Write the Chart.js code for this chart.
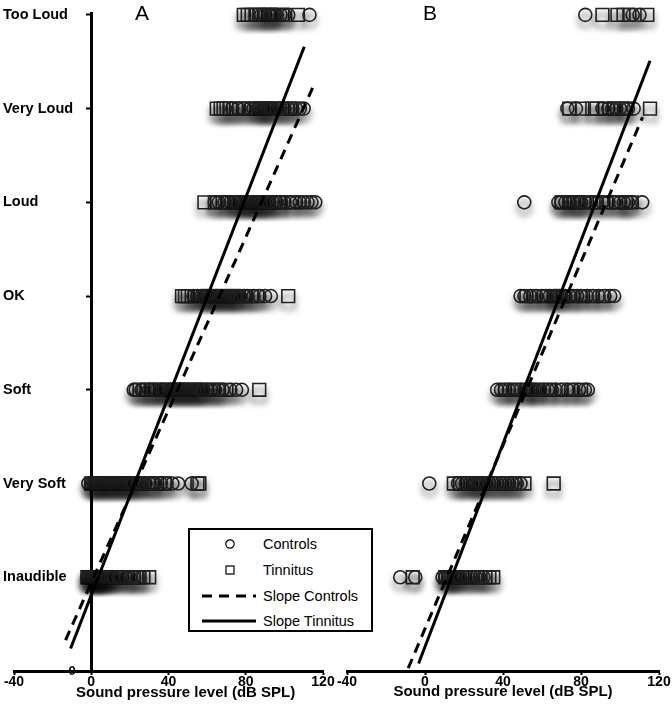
<!DOCTYPE html>
<html>
<head>
<meta charset="utf-8">
<script src="https://cdn.jsdelivr.net/npm/chart.js@4.4.1/dist/chart.umd.min.js"></script>
<style>
  body { margin: 0; background: #fff; }
  #page { position: relative; width: 672px; height: 719px; overflow: hidden; font-family: "Liberation Sans", Arial, sans-serif; }
  canvas { position: absolute; top: 0; }
  #chartA { left: 0; }
  #chartB { left: 335px; }
  .panel { position: absolute; top: 2px; font-size: 21px; line-height: 21px; color: #000; }
  #titleA { position: absolute; left: 76px; top: 684px; font-size: 15px; line-height: 15px; font-weight: bold; color: #000; white-space: nowrap; }
  #legend { position: absolute; left: 188px; top: 528px; width: 181px; height: 100px; border: 2px solid #000; background: #fff; }
  #legend .row { position: absolute; left: 0; height: 20px; width: 181px; }
  #legend svg { position: absolute; left: 11px; top: 0; }
  #legend span { position: absolute; left: 73px; top: 1px; font-size: 14.5px; line-height: 18px; color: #000; }
</style>
</head>
<body>
<div id="page">
  <canvas id="chartA" width="400" height="719"></canvas>
  <canvas id="chartB" width="337" height="719"></canvas>
  <div class="panel" style="left:135px">A</div>
  <div class="panel" style="left:423px">B</div>
  <div id="titleA">Sound pressure level (dB SPL)</div>
  <div id="legend">
    <div class="row" style="top:4px">
      <svg width="56" height="20"><circle cx="29" cy="10" r="4.2" fill="none" stroke="#000" stroke-width="1.2"/></svg>
      <span>Controls</span>
    </div>
    <div class="row" style="top:29.5px">
      <svg width="56" height="20"><rect x="25" y="6" width="8" height="8" fill="none" stroke="#000" stroke-width="1.2"/></svg>
      <span>Tinnitus</span>
    </div>
    <div class="row" style="top:55.5px">
      <svg width="56" height="20"><line x1="1" y1="10" x2="55" y2="10" stroke="#000" stroke-width="3" stroke-dasharray="10,7"/></svg>
      <span>Slope Controls</span>
    </div>
    <div class="row" style="top:80.5px">
      <svg width="56" height="20"><line x1="1" y1="10" x2="55" y2="10" stroke="#000" stroke-width="3"/></svg>
      <span>Slope Tinnitus</span>
    </div>
  </div>
</div>
<script>
// rating categories, index 0 -> level 1
const levels = ["Inaudible", "Very Soft", "Soft", "OK", "Loud", "Very Loud", "Too Loud"];

// Panel A: dB SPL per rating, one list per category
const controlsA = [
  [-2, -1, 0, 1, 1.5, 2, 3, 3.5, 4, 5, 5.5, 6, 7, 8, 9, 10, 11, 12, 14, 15, 18, 20, 22],
  [-1.5, 0, 1, 2, 3, 4, 5, 6, 7, 8, 9, 10, 11, 12, 13, 14, 15, 16, 17, 18, 19, 20, 21, 22, 24, 25, 26, 28, 30, 32, 33, 36, 39, 42, 45, 52],
  [22, 23, 26, 30, 32, 34, 36, 37, 38, 40, 41, 42, 43, 44, 45, 46, 47, 48, 49, 50, 51, 52, 53, 54, 55, 56, 57, 58, 60, 62, 64, 66, 68, 72, 75, 78],
  [53, 55, 57, 58, 59, 60, 61, 62, 63, 64, 65, 66, 67, 68, 69, 70, 71, 72, 73, 74, 75, 76, 77, 79, 81, 84, 87, 90, 93],
  [64, 66, 69, 72, 74, 75, 76, 78, 79, 80, 81, 82, 83, 84, 85, 86, 87, 88, 89, 90, 91, 92, 94, 96, 98, 100, 103, 106, 108, 110, 112, 114, 116],
  [73, 76, 79, 82, 84, 86, 87, 88, 89, 90, 91, 92, 93, 94, 96, 98, 100, 102, 104, 106, 108, 110],
  [88, 90, 92, 93, 94, 95, 96, 98, 100, 102, 113]
];
const tinnitusA = [
  [-2, -1, 0, 1, 2, 3, 4, 5, 6, 7, 8, 10, 13, 16, 19, 22, 24, 25, 27, 30],
  [0, 2, 4, 6, 9, 11, 14, 17, 20, 23, 26, 30, 34, 38, 55, 56],
  [25, 27, 29, 31, 33, 36, 39, 42, 45, 48, 51, 54, 57, 60, 63, 66, 70, 87],
  [47, 48.5, 50, 52, 56, 60, 64, 68, 72, 76, 80, 83, 86, 102],
  [58.6, 64, 68, 71, 74, 77, 80, 83, 86, 89, 92, 95, 98, 104],
  [65, 67, 68.5, 70, 72, 75, 79, 83, 87, 91, 95, 99, 103],
  [79, 81, 83, 85, 87, 89.5, 92, 99, 107]
];

// Panel B
const controlsB = [
  [-12.7, -5, 9, 10.5, 12, 13, 14, 15, 16, 17, 18, 20, 22, 24, 26, 28, 30],
  [2.2, 17, 19, 21, 23, 25, 26, 27, 28, 29, 31, 33, 35, 37, 39, 41, 43, 45, 47, 49],
  [37, 39, 41, 43, 45, 47, 49, 51, 53, 54, 55, 56, 57, 59, 61, 63, 65, 67, 70, 73, 76, 79, 82, 83.5],
  [49, 51, 54, 57, 60, 62, 64, 66, 67, 68, 69, 70, 72, 74, 76, 78, 80, 83, 86, 89, 92, 95, 97],
  [50.9, 68.4, 70, 72, 74, 76, 78, 79, 80, 82, 85, 88, 91, 94, 97, 100, 102, 104, 106, 111.4],
  [73, 77.4, 91, 94, 96, 98, 100, 102, 104, 107],
  [82.2, 106.5, 110]
];
const tinnitusB = [
  [-6.3, 10.4, 12, 15, 19, 23, 27, 31, 33, 35],
  [14.8, 18, 22, 26, 30, 34, 38, 42, 46, 51, 66],
  [41, 46, 52, 58, 64, 70, 75, 80],
  [52, 56, 61, 66, 71, 76, 81, 86, 91],
  [70, 74, 78, 83, 88, 93, 98, 103, 106],
  [74, 80.7, 85.8, 88, 92, 97, 103, 115.4],
  [91, 98.7, 101.8, 104.8, 114]
];

// fitted slopes, endpoints as drawn (dB SPL, rating level)
const slopeControlsA = [{ x: -13.3, y: 0.33 }, { x: 114.6, y: 6.22 }];
const slopeTinnitusA = [{ x: -10.7, y: 0.24 }, { x: 110.3, y: 6.66 }];
const slopeControlsB = [{ x: -8.6, y: 0.03 }, { x: 111.6, y: 5.91 }];
const slopeTinnitusB = [{ x: -3.3, y: 0.08 }, { x: 115.4, y: 6.51 }];

const FONT = "'Liberation Sans', Arial, sans-serif";

function toPoints(rows) {
  return rows.flatMap((vals, i) => vals.map(v => ({ x: v, y: i + 1 })));
}

// soft drop shadow under the markers
const markerShadow = {
  id: "markerShadow",
  beforeDatasetDraw(chart, args) {
    if (!chart.data.datasets[args.index].shadow) return;
    const ctx = chart.ctx;
    ctx.save();
    ctx.shadowColor = "rgba(0,0,0,0.75)";
    ctx.shadowBlur = 6;
    ctx.shadowOffsetY = 6;
  },
  afterDatasetDraw(chart, args) {
    if (!chart.data.datasets[args.index].shadow) return;
    chart.ctx.restore();
  }
};

function makeChart(id, ctrl, tinn, slopeC, slopeT, withAxis) {
  const scales = {
    x: {
      type: "linear",
      min: -40,
      max: 120,
      ticks: { stepSize: 40, color: "#000", padding: 0, font: { family: FONT, size: 14, weight: "bold", lineHeight: 1 } },
      grid: { drawOnChartArea: false, drawTicks: true, tickLength: 4, tickColor: "#000", tickWidth: 2 },
      border: { color: "#000", width: 3 },
      title: {
        // panel A's title sits off-centre, so it is placed as page text instead
        display: !withAxis,
        text: "Sound pressure level (dB SPL)",
        color: "#000",
        font: { family: FONT, size: 15, weight: "bold", lineHeight: 1.1 },
        padding: { top: -5, bottom: 0 }
      }
    },
    y: {
      type: "linear",
      min: 0,
      max: 7.02,
      display: withAxis,
      position: { x: 0 },
      ticks: { stepSize: 1, includeBounds: false, display: false },
      grid: { drawOnChartArea: false, drawTicks: true, tickLength: 4, tickColor: "#000", tickWidth: 2 },
      border: { color: "#000", width: 3 }
    }
  };
  if (withAxis) {
    // the lone "0" label left of the vertical axis
    scales.y0 = {
      axis: "y",
      type: "linear",
      position: { x: -8 },
      min: 0,
      max: 7.02,
      ticks: {
        stepSize: 1,
        includeBounds: false,
        color: "#000",
        font: { family: FONT, size: 13, weight: "bold" },
        callback: v => (v === 0 ? "0" : "")
      },
      grid: { display: false },
      border: { display: false }
    };
    // rating names, left-aligned at the page edge
    scales.yl = {
      axis: "y",
      type: "linear",
      position: "left",
      min: 0,
      max: 7.02,
      afterFit: s => { s.width = 11; },
      ticks: {
        stepSize: 1,
        includeBounds: false,
        mirror: true,
        padding: -11,
        color: "#000",
        font: { family: FONT, size: 14.5, weight: "bold" },
        callback: v => (Number.isInteger(v) && v >= 1 ? levels[v - 1] : "")
      },
      grid: { display: false },
      border: { display: false }
    };
  }

  return new Chart(document.getElementById(id), {
    type: "scatter",
    data: {
      datasets: [
        {
          label: "Slope Tinnitus",
          data: slopeT,
          showLine: true,
          borderColor: "#000",
          borderWidth: 3,
          pointRadius: 0,
          clip: false
        },
        {
          label: "Slope Controls",
          data: slopeC,
          showLine: true,
          borderColor: "#000",
          borderWidth: 3,
          borderDash: [10, 7],
          pointRadius: 0,
          clip: false
        },
        {
          label: "Controls",
          data: toPoints(ctrl),
          pointStyle: "circle",
          pointRadius: 6.5,
          borderColor: "#222",
          borderWidth: 1.6,
          backgroundColor: "rgba(255,255,255,0)",
          shadow: true,
          clip: false
        },
        {
          label: "Tinnitus",
          data: toPoints(tinn),
          pointStyle: "rect",
          pointRadius: 9,
          borderColor: "#222",
          borderWidth: 1.6,
          backgroundColor: "rgba(255,255,255,0)",
          shadow: true,
          clip: false
        }
      ]
    },
    options: {
      responsive: false,
      animation: false,
      layout: {
        autoPadding: false,
        padding: withAxis
          ? { left: 3, right: 77, top: 13, bottom: 30 }
          : { left: 12, right: 13, top: 13, bottom: 18.5 }
      },
      plugins: {
        legend: { display: false },
        tooltip: { enabled: false }
      },
      scales: scales
    },
    plugins: [markerShadow]
  });
}

makeChart("chartA", controlsA, tinnitusA, slopeControlsA, slopeTinnitusA, true);
makeChart("chartB", controlsB, tinnitusB, slopeControlsB, slopeTinnitusB, false);
</script>
</body>
</html>
